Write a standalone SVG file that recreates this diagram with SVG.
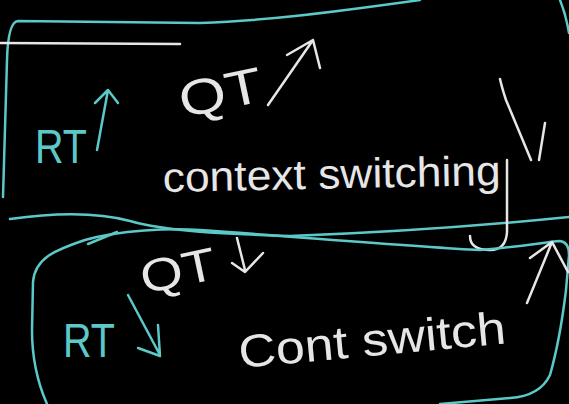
<svg xmlns="http://www.w3.org/2000/svg" width="569" height="404" viewBox="0 0 569 404">
<style>
.c{fill:none;stroke:#5cc8c8;stroke-width:2.5;stroke-linecap:round;stroke-linejoin:round}
.w{fill:none;stroke:#e6e6e6;stroke-width:2.5;stroke-linecap:round;stroke-linejoin:round}
.tc{fill:#5cc8c8;font-family:"Liberation Sans",Arial,sans-serif}
.tw{fill:#e6e6e6;font-family:"Liberation Sans",Arial,sans-serif}
</style>
<rect width="569" height="404" fill="#000"/>
<g id="top-box">
<path class="c" d="M 3 197 L 7 60 Q 8 22 18 21 L 200 23 C 260 21 320 14 420 0"/>
<path class="c" d="M 560 0 Q 566 15 569 33"/>
<path class="c" d="M 10 219 C 60 212 100 213 130 221 C 165 231 220 234 290 236 C 400 232 480 226 569 217"/>
<path class="w" d="M 0 43 L 180 44"/>
<text class="tc" x="35" y="163" font-size="48" textLength="52" lengthAdjust="spacingAndGlyphs">RT</text>
<path class="c" d="M 97 150 L 108 90 M 95 103 L 108 90 L 118 103"/>
<text class="tw" x="183" y="118" font-size="50" textLength="84" lengthAdjust="spacingAndGlyphs" transform="rotate(-12 183 118)">QT</text>
<path class="w" d="M 268 105 L 313 40 M 287 55 L 313 40 L 320 68"/>
<text class="tw" x="163" y="192" font-size="42" textLength="338" lengthAdjust="spacingAndGlyphs" transform="rotate(-1.2 163 192)">context switching</text>
<path class="w" d="M 500 79 Q 502 88 506 100 L 531 160 M 545 123 L 539 160"/>
<path class="w" d="M 507 160 L 507 232 Q 506 250 490 250 Q 470 250 470 236"/>
</g>
<g id="bottom-box">
<path class="c" d="M 47 404 Q 32 370 32 330 L 33 282 C 35 258 55 250 85 240 C 120 230 170 228 200 230 C 300 237 420 247 480 250 C 520 247 545 242 560 241 Q 569 242 569 255 L 566 290 Q 560 340 550 375 Q 540 396 510 398 L 440 404"/>
<path class="c" d="M 88 244 L 117 232"/>
<text class="tc" x="63" y="357" font-size="48" textLength="52" lengthAdjust="spacingAndGlyphs">RT</text>
<path class="c" d="M 128 295 L 160 355 M 138 348 L 160 356 L 158 325"/>
<text class="tw" x="144" y="294" font-size="46" textLength="76" lengthAdjust="spacingAndGlyphs" transform="rotate(-12 144 294)">QT</text>
<path class="w" d="M 237 238 L 245 270 M 232 263 L 245 272 L 263 253"/>
<text class="tw" x="240" y="368" font-size="46" textLength="268" lengthAdjust="spacingAndGlyphs" transform="rotate(-5.3 240 368)">Cont switch</text>
<path class="w" d="M 527 303 L 552 242 M 530 258 L 552 242 L 568 272"/>
</g>
</svg>
